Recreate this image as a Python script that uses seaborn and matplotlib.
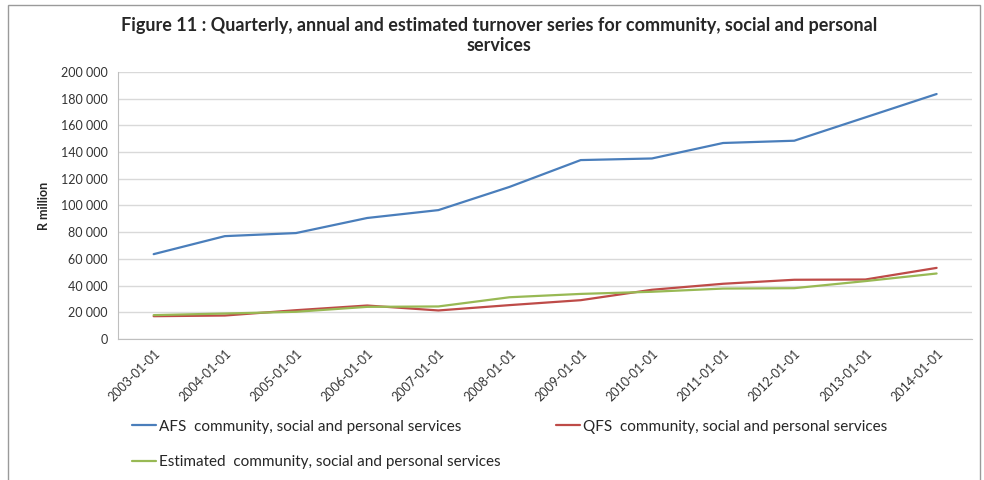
import pandas as pd
import numpy as np
import matplotlib
matplotlib.use("Agg")
import matplotlib.pyplot as plt
import matplotlib.ticker as mticker
import seaborn as sns

years = ['2003-01-01', '2004-01-01', '2005-01-01', '2006-01-01', '2007-01-01', '2008-01-01',
         '2009-01-01', '2010-01-01', '2011-01-01', '2012-01-01', '2013-01-01', '2014-01-01']
afs = [63500, 77000, 79300, 90600, 96500, 113900, 134000, 135200, 146800, 148500, 166000, 183500]
qfs = [17000, 17500, 21500, 25000, 21300, 25300, 29000, 36800, 41300, 44300, 44500, 53200]
est = [17800, 19000, 20300, 24000, 24300, 31200, 33700, 35300, 37700, 38000, 43300, 49000]

series_names = ['AFS  community, social and personal services',
                'QFS  community, social and personal services',
                'Estimated  community, social and personal services']
colors = ['#4a7ebb', '#be4b48', '#98b954']

df = pd.DataFrame({'year': years * 3,
                   'value': afs + qfs + est,
                   'series': [series_names[0]] * 12 + [series_names[1]] * 12 + [series_names[2]] * 12})
df['pos'] = df.groupby('series').cumcount()

sns.set_style('white')
plt.rcParams['font.family'] = ['Lato', 'DejaVu Sans']

fig = plt.figure(figsize=(9.84, 4.8), dpi=100)
ax = fig.add_axes([0.12, 0.294, 0.868, 0.556])

sns.lineplot(data=df, x='pos', y='value', hue='series', palette=colors,
             linewidth=1.6, ax=ax, legend=True)

ax.set_xlim(-0.5, 11.5)
ax.set_ylim(0, 200000)
ax.yaxis.set_major_locator(mticker.MultipleLocator(20000))
ax.yaxis.set_major_formatter(mticker.FuncFormatter(lambda v, p: f'{int(v):,}'.replace(',', ' ')))
ax.yaxis.grid(True, color='#d9d9d9', linewidth=1)
ax.xaxis.grid(False)

ax.set_xticks(range(12))
ax.set_xticklabels(years, rotation=45, ha='right', rotation_mode='anchor', fontsize=9, color='#333333')
ax.set_xticks(np.arange(-0.5, 12, 1), minor=True)
ax.tick_params(axis='x', which='major', length=0, pad=6)
ax.tick_params(axis='x', which='minor', length=4, color='#bfbfbf', direction='out')
ax.tick_params(axis='y', length=4, color='#bfbfbf', direction='out', labelsize=9, labelcolor='#333333')

for s in ['top', 'right']:
    ax.spines[s].set_visible(False)
for s in ['left', 'bottom']:
    ax.spines[s].set_color('#bfbfbf')

ax.set_xlabel('')
ax.set_ylabel('R million', fontsize=9, fontweight='bold', labelpad=8)

fig.suptitle('Figure 11 : Quarterly, annual and estimated turnover series for community, social and personal\nservices',
             x=0.507, y=0.965, fontsize=13, fontweight='bold', linespacing=1.25)

handles, labels = ax.get_legend_handles_labels()
ax.get_legend().remove()
order = [0, 2, 1]
fig.legend([handles[i] for i in order], [labels[i] for i in order],
           loc='upper left', bbox_to_anchor=(0.12, 0.154), ncol=2,
           frameon=False, fontsize=11, handlelength=1.6, handletextpad=0.2,
           columnspacing=3.6, labelspacing=1.4)

fig.patches.append(plt.Rectangle((0.008, -0.01), 0.988, 1.0, transform=fig.transFigure,
                                 fill=False, edgecolor='#9a9a9a', linewidth=1))

fig.savefig('out.png', dpi=100)
